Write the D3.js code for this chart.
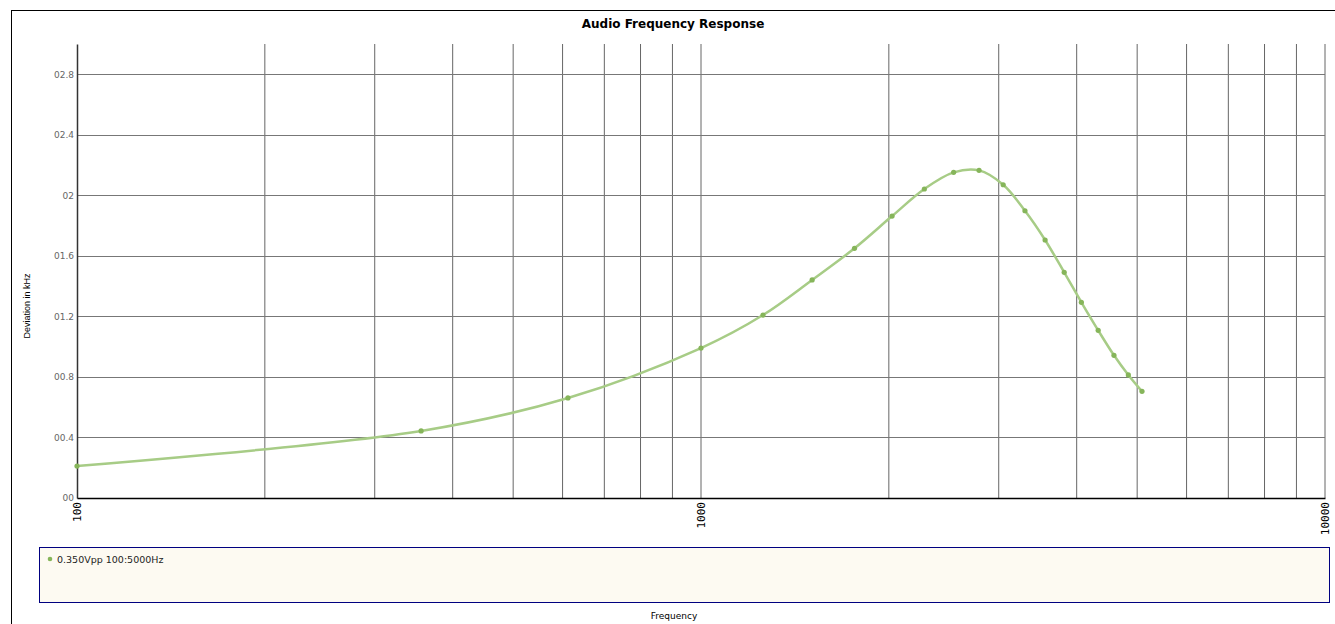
<!DOCTYPE html>
<html>
<head>
<meta charset="utf-8">
<script src="https://cdn.jsdelivr.net/npm/d3@7"></script>
<style>
  html, body { margin: 0; padding: 0; background: #fff; }
  svg { display: block; }
</style>
</head>
<body>
<svg id="chart" width="1335" height="624"></svg>
<script>
// Measured sweep: frequency (Hz) vs deviation (kHz)
const frequencies = [100, 356, 612, 1000, 1257, 1507, 1762, 2024, 2280, 2540,
                     2790, 3050, 3305, 3560, 3820, 4070, 4330, 4590, 4840, 5090];
const deviations  = [0.0211, 0.0443, 0.0661, 0.0991, 0.1209, 0.1441, 0.1650, 0.1863, 0.2042, 0.2152,
                     0.2165, 0.2070, 0.1898, 0.1705, 0.1491, 0.1293, 0.1108, 0.0943, 0.0813, 0.0705];
const yTicks = [0, 0.04, 0.08, 0.12, 0.16, 0.2, 0.24, 0.28];
const yTickLabels = ["00", "00.4", "00.8", "01.2", "01.6", "02", "02.4", "02.8"];
const xTickLabels = ["100", "1000", "10000"];
const seriesName = "0.350Vpp 100:5000Hz";
const chartTitle = "Audio Frequency Response";
const xTitle = "Frequency";
const yTitle = "Deviation in kHz";

const svg = d3.select("#chart");
const plot = { left: 77, right: 1325, top: 44, bottom: 498 };

const x = d3.scaleLog().domain([100, 10000]).range([plot.left, plot.right]);
const y = d3.scaleLinear().domain([0, 0.3]).range([plot.bottom, plot.top]);

// outer frame
svg.append("rect")
  .attr("x", 11.5).attr("y", 10.5)
  .attr("width", 1340).attr("height", 640)
  .attr("fill", "none").attr("stroke", "#000").attr("stroke-width", 1);

// title
svg.append("text")
  .attr("x", 673).attr("y", 28)
  .attr("text-anchor", "middle")
  .attr("font-family", "'DejaVu Sans', sans-serif")
  .attr("font-weight", "bold")
  .attr("font-size", 12)
  .attr("fill", "#000")
  .text(chartTitle);

// vertical grid (log decades and sub-ticks)
const xGrid = [];
for (let d = 100; d < 10000; d *= 10) {
  for (let k = 1; k <= 9; k++) xGrid.push(d * k);
}
xGrid.push(10000);
svg.append("g").selectAll("line")
  .data(xGrid.filter(v => v > 100))
  .join("line")
  .attr("x1", d => x(d)).attr("x2", d => x(d))
  .attr("y1", plot.top).attr("y2", plot.bottom)
  .attr("stroke", "#666").attr("stroke-width", 1);

// horizontal grid
svg.append("g").selectAll("line")
  .data(yTicks.filter(v => v > 0))
  .join("line")
  .attr("x1", plot.left).attr("x2", plot.right)
  .attr("y1", d => Math.round(y(d)) + 0.5).attr("y2", d => Math.round(y(d)) + 0.5)
  .attr("stroke", "#777").attr("stroke-width", 1);

// y axis
const yAxis = d3.axisLeft(y)
  .tickValues(yTicks)
  .tickSize(0)
  .tickSizeOuter(0)
  .tickFormat((d, i) => yTickLabels[i]);
const gy = svg.append("g")
  .attr("transform", `translate(${plot.left},0)`)
  .call(yAxis);
gy.select(".domain").attr("stroke", "#333").attr("stroke-width", 1.5);
gy.selectAll(".tick text")
  .attr("font-family", "'DejaVu Sans', sans-serif")
  .attr("font-size", 9)
  .attr("fill", "#666")
  .attr("x", -3);

// x axis
const xAxis = d3.axisBottom(x)
  .tickValues([100, 1000, 10000])
  .tickSize(0)
  .tickSizeOuter(0)
  .tickFormat((d, i) => xTickLabels[i]);
const gx = svg.append("g")
  .attr("transform", `translate(0,${plot.bottom})`)
  .call(xAxis);
gx.select(".domain").attr("stroke", "#000").attr("stroke-width", 1.5);
gx.selectAll(".tick text")
  .attr("font-family", "'DejaVu Sans Mono', monospace")
  .attr("font-size", 11)
  .attr("fill", "#000")
  .attr("text-anchor", "end")
  .attr("dy", "0.35em")
  .attr("x", 0).attr("y", 0)
  .attr("transform", "translate(0,4) rotate(-90)");

// y axis title
svg.append("text")
  .attr("transform", "translate(30,306) rotate(-90)")
  .attr("text-anchor", "middle")
  .attr("font-family", "'Liberation Sans', Arial, sans-serif")
  .attr("font-size", 9)
  .attr("fill", "#000")
  .text(yTitle);

// series
const pts = frequencies.map((f, i) => [f, deviations[i]]);
const line = d3.line()
  .x(d => x(d[0])).y(d => y(d[1]))
  .curve(d3.curveCatmullRom.alpha(0.5));

svg.append("path")
  .datum(pts)
  .attr("d", line)
  .attr("fill", "none")
  .attr("stroke", "#a7cc86")
  .attr("stroke-width", 2.5);

svg.append("g").selectAll("circle")
  .data(pts)
  .join("circle")
  .attr("cx", d => x(d[0])).attr("cy", d => y(d[1]))
  .attr("r", 2.6)
  .attr("fill", "#86b55a");

// legend
svg.append("rect")
  .attr("x", 39.5).attr("y", 547.5)
  .attr("width", 1290).attr("height", 55)
  .attr("fill", "#fdfaf2")
  .attr("stroke", "#000080").attr("stroke-width", 1);
svg.append("circle")
  .attr("cx", 50).attr("cy", 559).attr("r", 2.3)
  .attr("fill", "#86b55a");
svg.append("text")
  .attr("x", 57).attr("y", 562.5)
  .attr("font-family", "'DejaVu Sans', sans-serif")
  .attr("font-size", 9.5)
  .attr("fill", "#222")
  .text(seriesName);

// x axis title
svg.append("text")
  .attr("x", 674).attr("y", 619)
  .attr("text-anchor", "middle")
  .attr("font-family", "'DejaVu Sans', sans-serif")
  .attr("font-size", 9)
  .attr("fill", "#000")
  .text(xTitle);
</script>
</body>
</html>
